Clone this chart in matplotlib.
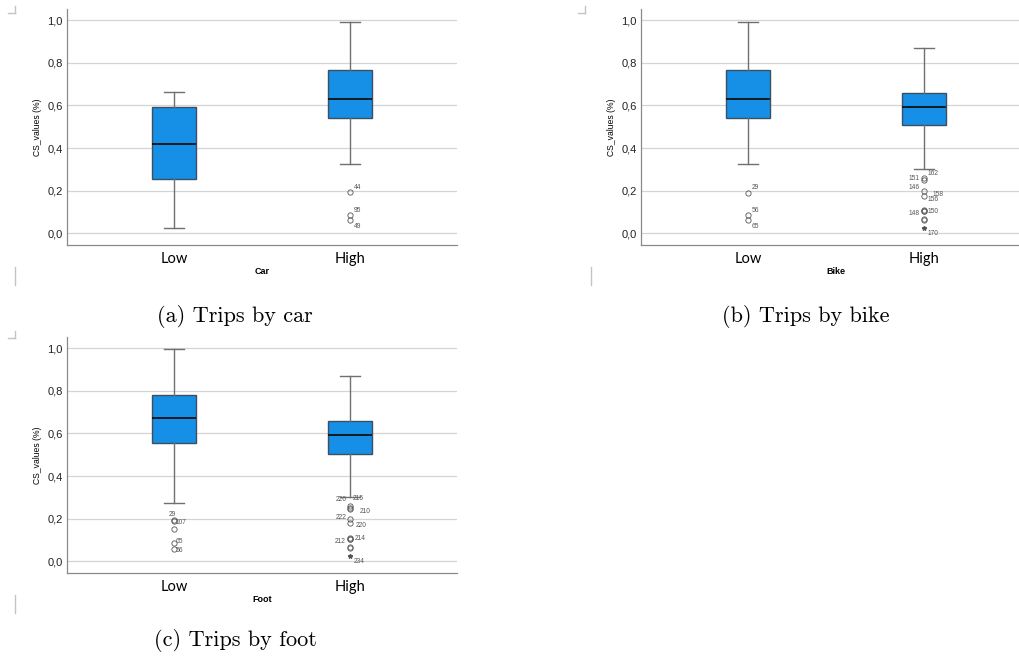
import matplotlib
matplotlib.use("Agg")
from matplotlib import pyplot as plt
from matplotlib.lines import Line2D
import numpy as np

# five-number summaries per group: whisker low, Q1, median, Q3, whisker high
groups = ["Low", "High"]

car_stats = [[0.026, 0.253, 0.420, 0.595, 0.663],
             [0.327, 0.543, 0.629, 0.765, 0.993]]
bike_stats = [[0.327, 0.543, 0.629, 0.765, 0.993],
              [0.300, 0.510, 0.592, 0.657, 0.869]]
foot_stats = [[0.274, 0.555, 0.671, 0.782, 0.995],
              [0.301, 0.503, 0.593, 0.660, 0.868]]

# outliers (circles) and their case numbers
car_out = [[], [0.193, 0.086, 0.061]]
car_ids = [[], ["44", "95", "49"]]
bike_out = [[0.190, 0.086, 0.061],
            [0.260, 0.250, 0.200, 0.177, 0.110, 0.106, 0.104, 0.068, 0.064]]
bike_ids = [["29", "56", "65"],
            ["162", "151", "146", "158", "156", "150", "148", "", ""]]
foot_out = [[0.192, 0.188, 0.152, 0.085, 0.059],
            [0.258, 0.250, 0.245, 0.199, 0.179, 0.110, 0.106, 0.104, 0.068, 0.064]]
foot_ids = [["29", "107", "", "65", "56"],
            ["215", "226", "210", "222", "", "220", "214", "212", "", ""]]

# extreme values (stars)
bike_ext = [[], [0.026]]
bike_ext_ids = [[], ["170"]]
foot_ext = [[], [0.026]]
foot_ext_ids = [[], ["234"]]

# label offsets in points (dx, dy, ha)
car_lab = [[], [(2.5, 3.5, "left"), (2.5, 3.5, "left"), (2.5, -4.5, "left")]]
bike_lab = [[(2.5, 3.5, "left"), (2.5, 3.5, "left"), (2.5, -4.5, "left")],
            [(2.5, 3.0, "left"), (-3.0, 1.0, "right"), (-3.0, 2.5, "right"),
             (6.0, 1.0, "left"), (2.5, 7.5, "left"), (2.5, -0.5, "left"),
             (-3.0, -1.5, "right"), (0, 0, "left"), (0, 0, "left")]]
foot_lab = [[(-3.5, 4.5, "left"), (1.5, -1.0, "left"), (0, 0, "left"),
             (1.5, 1.5, "left"), (1.5, -1.5, "left")],
            [(2.0, 5.5, "left"), (-2.5, 6.0, "right"), (7.0, -2.0, "left"),
             (-2.5, 1.0, "right"), (0, 0, "left"), (4.0, 9.0, "left"),
             (3.0, 0.0, "left"), (-3.0, -2.0, "right"), (0, 0, "left"), (0, 0, "left")]]

captions = ["(a) Trips by car", "(b) Trips by bike", "(c) Trips by foot"]
xnames = ["Car", "Bike", "Foot"]

BOX = "#1590e6"
GRID = "#d4d4d4"


def draw_panel(ax, stats, outs, ids, labs, exts, ext_ids, xname):
    bxstats = []
    for s, o in zip(stats, outs):
        bxstats.append(dict(whislo=s[0], q1=s[1], med=s[2], q3=s[3],
                            whishi=s[4], fliers=np.array(o)))
    ax.bxp(bxstats, positions=[0, 1], widths=0.25, capwidths=0.11,
           patch_artist=True, manage_ticks=False,
           boxprops=dict(facecolor=BOX, edgecolor="#3d4f60", linewidth=1.0),
           medianprops=dict(color="#111111", linewidth=1.3),
           whiskerprops=dict(color="#707070", linewidth=1.0),
           capprops=dict(color="#707070", linewidth=1.0),
           flierprops=dict(marker="o", markersize=3.8, markerfacecolor="none",
                           markeredgecolor="#555555", markeredgewidth=0.6),
           zorder=3)
    for pos in range(2):
        for v, t, (dx, dy, ha) in zip(outs[pos], ids[pos], labs[pos]):
            if t:
                ax.annotate(t, (pos, v), xytext=(dx, dy), textcoords="offset points",
                            fontsize=4.8, color="#555555", ha=ha, va="center")
        for v, t in zip(exts[pos], ext_ids[pos]):
            ax.plot(pos, v, marker="*", markersize=3.2, color="#555555",
                    linestyle="none", zorder=4)
            ax.annotate(t, (pos, v), xytext=(2.5, -4.5), textcoords="offset points",
                        fontsize=4.8, color="#555555", ha="left", va="center")

    ax.set_xlim(-0.606, 1.606)
    ticks = np.arange(0, 1.01, 0.2)
    ax.set_yticks(ticks)
    ax.set_yticklabels([("%.1f" % v).replace(".", ",") for v in ticks])
    ax.yaxis.grid(True, color=GRID, linewidth=0.9, zorder=0)
    ax.set_axisbelow(True)
    ax.set_xticks([0, 1])
    ax.set_xticklabels(groups, fontfamily="Lato", fontsize=10.5)
    ax.tick_params(axis="both", length=0)
    ax.tick_params(axis="y", labelsize=8, pad=3, colors="#222222")
    ax.tick_params(axis="x", pad=5)
    for sp in ["top", "right"]:
        ax.spines[sp].set_visible(False)
    for sp in ["left", "bottom"]:
        ax.spines[sp].set_color("#8a8a8a")
        ax.spines[sp].set_linewidth(0.9)
    ax.set_ylabel("CS_values (%)", fontsize=6.2, labelpad=4)
    ax.set_xlabel(xname, fontsize=6.5, fontweight="bold", labelpad=1)


plt.rcParams["font.family"] = ["Liberation Sans", "DejaVu Sans"]
fig = plt.figure(figsize=(10.19, 6.60), dpi=100)

W, H = 1019.0, 660.0
ax_a = fig.add_axes([67 / W, 1 - 245 / H, 390 / W, 236 / H])
ax_b = fig.add_axes([641 / W, 1 - 245 / H, 390 / W, 236 / H])
ax_c = fig.add_axes([67 / W, 1 - 573 / H, 390 / W, 236 / H])

draw_panel(ax_a, car_stats, car_out, car_ids, car_lab, [[], []], [[], []], xnames[0])
draw_panel(ax_b, bike_stats, bike_out, bike_ids, bike_lab, bike_ext, bike_ext_ids, xnames[1])
draw_panel(ax_c, foot_stats, foot_out, foot_ids, foot_lab, foot_ext, foot_ext_ids, xnames[2])
for ax in (ax_a, ax_b, ax_c):
    ax.set_ylim(-0.055, 1.053)

# sub-figure captions
fig.text(235 / W, 1 - 316 / H, captions[0], fontfamily="cmr10", fontsize=16,
         ha="center", va="center")
fig.text(806 / W, 1 - 316 / H, captions[1], fontfamily="cmr10", fontsize=16,
         ha="center", va="center")
fig.text(235 / W, 1 - 641 / H, captions[2], fontfamily="cmr10", fontsize=16,
         ha="center", va="center")

# frame corner marks around the embedded pictures
mark = dict(color="#c4c4c4", linewidth=1.0, transform=fig.transFigure)
for x0, y0 in [(8, 12.5), (578, 12.5), (8, 337.5)]:
    fig.add_artist(Line2D([x0 / W, (x0 + 7) / W], [1 - y0 / H, 1 - y0 / H], **mark))
    fig.add_artist(Line2D([(x0 + 7) / W, (x0 + 7) / W], [1 - y0 / H, 1 - (y0 - 7) / H], **mark))
for x0, y0 in [(15, 267), (591, 267), (15, 595)]:
    fig.add_artist(Line2D([x0 / W, x0 / W], [1 - y0 / H, 1 - (y0 + 18) / H], **mark))

fig.savefig("out.png", dpi=100)
